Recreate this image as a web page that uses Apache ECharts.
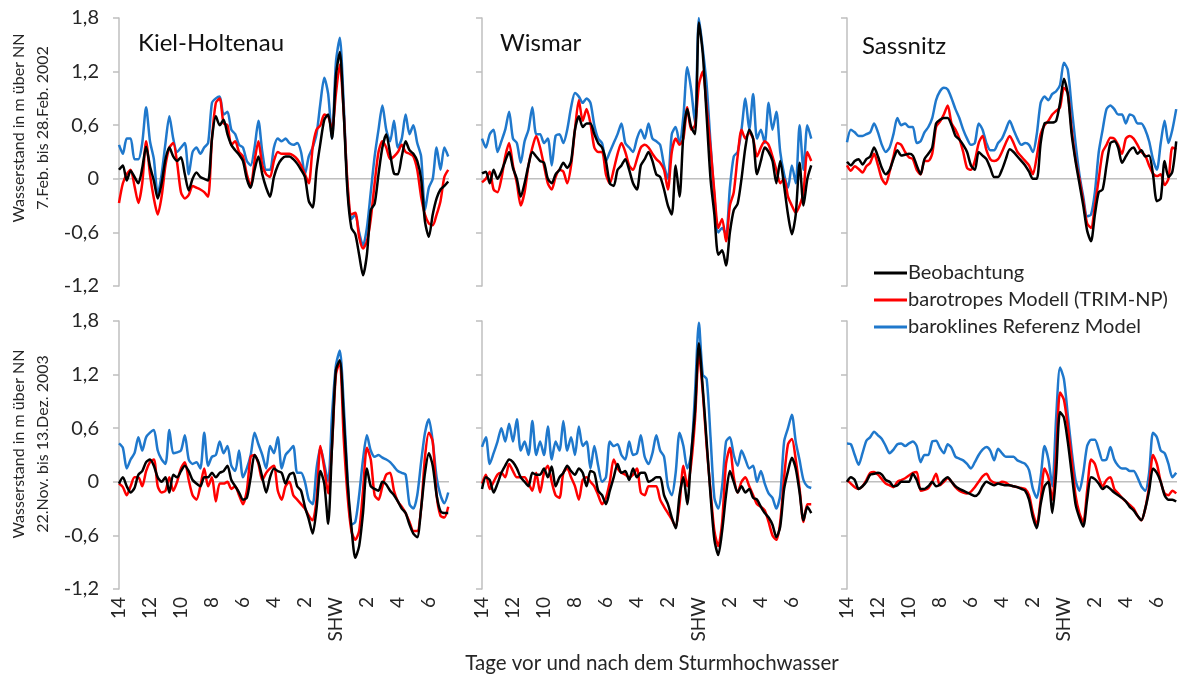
<!DOCTYPE html>
<html><head><meta charset="utf-8">
<script src="https://cdn.jsdelivr.net/npm/echarts@6/dist/echarts.min.js"></script>
<style>html,body{margin:0;padding:0;background:#fff}#c{width:1187px;height:677px}</style>
</head><body><div id="c"></div>
<script>
// time axis: days relative to storm surge (SHW), 6-hourly
const days = [];
for (let i = 0; i < 86; i++) days.push(-14 + 0.25 * i);
const stations = ['Kiel-Holtenau', 'Wismar', 'Sassnitz'];
const periods = ['7.Feb. bis 28.Feb. 2002', '22.Nov. bis 13.Dez. 2003'];
const seriesNames = ['Beobachtung', 'barotropes Modell (TRIM-NP)', 'baroklines Referenz Model'];
const yAxisTitle = 'Wasserstand in m über NN';
const xAxisTitle = 'Tage vor und nach dem Sturmhochwasser';

const kiel2002_obs = [0.10,0.15,-0.02,0.09,0.02,-0.05,0.12,0.36,0.14,-0.02,
-0.22,-0.05,0.22,0.35,0.25,0.20,0.24,0.05,-0.13,0.00,
0.07,0.02,0.00,-0.02,0.45,0.70,0.60,0.66,0.50,0.38,
0.32,0.27,0.20,0.00,-0.10,0.10,0.25,0.05,-0.10,-0.20,
0.02,0.15,0.22,0.25,0.25,0.22,0.17,0.10,0.02,-0.25,
-0.32,0.10,0.40,0.66,0.72,0.45,1.15,1.42,0.75,-0.15,
-0.55,-0.62,-0.85,-1.08,-0.85,-0.35,-0.28,0.05,0.35,0.50,
0.28,0.06,0.05,0.25,0.42,0.32,0.28,0.20,0.00,-0.48,
-0.65,-0.40,-0.22,-0.12,-0.08,-0.03];
const kiel2002_baro = [-0.27,-0.05,0.05,0.10,-0.08,-0.27,-0.05,0.42,0.05,-0.22,
-0.40,-0.20,0.15,0.35,0.40,0.18,-0.15,-0.22,-0.18,-0.08,
-0.10,-0.12,-0.15,-0.20,0.45,0.85,0.90,0.62,0.60,0.38,
0.42,0.30,0.25,0.05,-0.08,0.20,0.42,0.15,0.05,0.02,
0.20,0.30,0.28,0.28,0.28,0.26,0.22,0.15,0.05,-0.05,
0.35,0.55,0.60,0.72,0.70,0.55,0.95,1.28,0.75,-0.05,
-0.40,-0.38,-0.65,-0.78,-0.70,-0.45,-0.05,0.30,0.42,0.35,
0.22,0.25,0.30,0.38,0.30,0.28,0.25,0.10,-0.20,-0.40,
-0.50,-0.52,-0.40,-0.25,0.02,0.10];
const kiel2002_bkl = [0.38,0.28,0.45,0.45,0.22,0.22,0.40,0.80,0.42,0.22,
-0.18,0.05,0.40,0.70,0.45,0.30,0.35,0.40,0.05,0.30,
0.35,0.28,0.35,0.40,0.85,0.90,0.92,0.72,0.75,0.55,
0.50,0.38,0.35,0.20,0.15,0.35,0.65,0.30,0.10,0.10,
0.35,0.45,0.42,0.45,0.40,0.38,0.40,0.30,0.05,0.25,
0.35,0.50,0.85,1.13,0.95,0.45,1.30,1.58,0.85,-0.10,
-0.45,-0.40,-0.60,-0.75,-0.55,-0.15,0.25,0.55,0.82,0.55,
0.42,0.65,0.35,0.45,0.72,0.50,0.60,0.40,0.25,-0.35,
-0.10,0.00,0.35,0.10,0.35,0.25];

const wismar2002_obs = [0.06,0.08,-0.05,0.10,0.00,0.08,0.20,0.30,0.12,0.00,
-0.20,-0.05,0.15,0.30,0.25,0.20,0.18,0.00,-0.05,0.05,
0.10,0.18,0.12,0.20,0.55,0.70,0.58,0.62,0.62,0.50,
0.40,0.35,0.20,-0.05,-0.08,0.10,0.15,0.22,0.10,-0.05,
-0.12,0.15,0.22,0.30,0.20,0.05,0.02,-0.12,-0.30,-0.40,
0.15,-0.20,0.50,0.78,0.58,0.50,1.75,1.40,0.70,0.00,
-0.40,-0.85,-0.80,-0.97,-0.60,-0.35,-0.28,0.00,0.35,0.55,
0.45,0.05,0.20,0.35,0.30,0.20,-0.05,0.20,-0.08,-0.40,
-0.62,-0.40,0.18,-0.30,0.00,0.15];
const wismar2002_baro = [-0.04,0.00,0.08,-0.12,-0.15,0.00,0.25,0.40,0.15,-0.05,
-0.30,-0.15,0.15,0.35,0.48,0.35,0.15,-0.05,-0.12,0.02,
0.10,0.08,-0.05,0.15,0.55,0.88,0.65,0.78,0.62,0.35,
0.30,0.30,0.05,-0.05,0.10,0.28,0.40,0.30,0.15,0.10,
0.22,0.35,0.38,0.35,0.28,0.22,0.18,0.10,-0.12,0.30,
0.45,0.38,0.45,0.80,0.55,0.60,1.05,1.20,0.80,0.35,
-0.15,-0.55,-0.45,-0.70,-0.30,-0.15,0.25,0.55,0.45,0.52,
0.45,0.25,0.35,0.42,0.38,0.25,0.10,-0.05,0.00,-0.20,
-0.30,-0.38,-0.30,-0.15,0.30,0.20];
const wismar2002_bkl = [0.45,0.35,0.50,0.55,0.30,0.42,0.55,0.75,0.45,0.40,
0.18,0.42,0.55,0.80,0.50,0.50,0.40,0.45,0.15,0.48,
0.50,0.40,0.55,0.80,0.96,0.92,0.85,0.90,0.85,0.60,
0.45,0.40,0.20,0.30,0.40,0.50,0.62,0.40,0.35,0.30,
0.45,0.55,0.45,0.62,0.45,0.42,0.38,0.15,0.00,0.50,
0.58,0.40,0.70,1.25,1.00,0.62,1.80,1.45,1.05,0.40,
-0.20,-0.60,-0.55,-0.62,-0.10,0.25,0.30,0.55,0.90,0.55,
0.95,0.45,0.55,0.40,0.85,0.55,0.75,0.30,0.05,-0.10,
0.15,-0.05,0.60,0.10,0.60,0.45];

const sassnitz2002_obs = [0.19,0.15,0.20,0.22,0.16,0.22,0.25,0.35,0.25,0.12,
0.05,0.10,0.22,0.32,0.26,0.27,0.28,0.26,0.15,0.05,
0.22,0.28,0.35,0.62,0.66,0.68,0.68,0.60,0.48,0.44,
0.38,0.30,0.15,0.10,0.30,0.26,0.22,0.12,0.02,0.02,
0.10,0.22,0.33,0.30,0.25,0.20,0.15,0.08,0.00,0.00,
0.40,0.62,0.63,0.63,0.65,0.85,1.12,0.95,0.50,0.20,
-0.05,-0.30,-0.58,-0.70,-0.40,-0.15,-0.12,0.15,0.40,0.42,
0.35,0.18,0.25,0.32,0.35,0.28,0.32,0.25,0.26,0.05,
-0.25,-0.22,0.20,0.02,0.08,0.42];
const sassnitz2002_baro = [0.15,0.09,0.14,0.11,0.07,0.14,0.18,0.28,0.15,0.00,
-0.06,0.08,0.25,0.40,0.38,0.30,0.24,0.22,0.10,0.05,
0.20,0.20,0.28,0.58,0.64,0.72,0.82,0.62,0.55,0.45,
0.30,0.12,0.10,0.20,0.40,0.48,0.32,0.22,0.20,0.22,
0.30,0.40,0.48,0.40,0.30,0.25,0.20,0.15,0.05,0.25,
0.50,0.60,0.65,0.72,0.76,0.80,1.02,0.96,0.55,0.22,
0.00,-0.25,-0.50,-0.55,-0.30,0.00,0.30,0.38,0.46,0.45,
0.38,0.28,0.45,0.48,0.45,0.38,0.30,0.26,0.15,0.06,
0.03,0.05,-0.07,0.00,0.35,0.33];
const sassnitz2002_bkl = [0.41,0.55,0.52,0.48,0.48,0.50,0.52,0.62,0.52,0.38,
0.30,0.35,0.50,0.68,0.60,0.62,0.58,0.58,0.40,0.42,
0.52,0.58,0.68,0.88,0.98,1.02,1.00,0.90,0.78,0.68,
0.55,0.45,0.38,0.40,0.62,0.55,0.40,0.32,0.32,0.40,
0.45,0.55,0.65,0.55,0.45,0.38,0.40,0.38,0.30,0.50,
0.85,0.92,0.88,0.95,0.98,1.05,1.30,1.22,0.80,0.40,
0.05,-0.20,-0.42,-0.40,-0.15,0.30,0.55,0.78,0.82,0.78,
0.72,0.72,0.62,0.72,0.70,0.62,0.62,0.55,0.42,0.22,
0.10,0.40,0.65,0.40,0.55,0.78];

const kiel2003_obs = [-0.02,0.05,-0.05,-0.12,-0.07,0.08,0.12,0.22,0.25,0.18,
0.05,0.00,0.05,-0.12,0.08,0.05,0.12,0.18,0.12,0.02,
-0.02,-0.05,0.05,0.05,0.10,0.05,0.10,0.12,0.18,0.02,
-0.05,-0.12,-0.20,-0.18,0.05,0.30,0.22,0.05,-0.12,0.05,
0.15,0.12,0.10,-0.02,0.08,0.10,-0.05,-0.10,-0.28,-0.42,
-0.58,-0.30,0.12,-0.02,-0.47,0.40,1.25,1.36,0.75,0.00,
-0.50,-0.85,-0.72,-0.35,0.15,-0.05,-0.08,-0.10,0.00,-0.03,
-0.10,-0.15,-0.22,-0.30,-0.35,-0.48,-0.58,-0.62,-0.30,0.10,
0.32,0.18,-0.15,-0.33,-0.35,-0.35];
const kiel2003_baro = [-0.02,-0.06,-0.15,-0.05,0.05,0.05,-0.05,0.12,0.22,0.25,
-0.05,-0.12,-0.10,0.05,-0.10,0.00,0.15,0.22,0.02,-0.15,
-0.20,-0.05,0.15,-0.05,0.05,-0.22,-0.02,-0.02,0.00,-0.08,
-0.05,-0.15,-0.25,-0.10,0.28,0.30,0.20,0.02,0.10,0.15,
0.18,-0.10,-0.20,-0.05,0.00,-0.15,-0.20,-0.25,-0.30,-0.38,
-0.43,-0.20,0.40,0.15,-0.13,0.40,1.20,1.34,0.50,-0.15,
-0.55,-0.65,-0.55,-0.10,0.38,0.25,-0.15,-0.20,-0.05,0.08,
0.10,-0.10,-0.22,-0.28,-0.35,-0.45,-0.55,-0.55,-0.30,0.28,
0.55,0.45,-0.15,-0.38,-0.40,-0.28];
const kiel2003_bkl = [0.43,0.38,0.15,0.25,0.32,0.50,0.35,0.50,0.55,0.58,
0.35,0.25,0.20,0.58,0.32,0.33,0.35,0.52,0.25,0.20,
0.22,0.15,0.55,0.18,0.28,0.30,0.45,0.32,0.40,0.18,
0.12,0.35,0.05,0.15,0.30,0.55,0.42,0.30,0.15,0.40,
0.32,0.50,0.15,0.30,0.35,0.40,0.10,0.10,0.00,-0.20,
-0.25,0.15,0.38,0.20,0.00,0.75,1.30,1.47,0.88,0.05,
-0.48,-0.45,-0.15,0.25,0.52,0.35,0.28,0.30,0.27,0.25,
0.22,0.17,0.12,0.10,0.08,-0.25,-0.30,-0.15,0.22,0.55,
0.70,0.45,0.05,-0.15,-0.24,-0.12];

const wismar2003_obs = [-0.08,0.05,0.02,-0.12,-0.02,0.10,0.18,0.25,0.22,0.15,
0.05,0.00,-0.05,0.10,0.08,0.08,0.15,0.05,0.17,-0.05,
0.05,0.10,0.18,0.12,0.08,0.15,0.10,-0.05,0.12,0.10,
-0.10,-0.15,-0.25,-0.10,0.05,0.20,0.10,0.12,0.02,0.15,
0.05,0.10,0.10,0.00,0.02,0.05,0.05,-0.15,-0.25,-0.40,
-0.52,-0.15,0.05,-0.25,0.30,0.80,1.55,1.05,0.45,-0.15,
-0.65,-0.82,-0.55,-0.15,0.12,0.00,-0.12,-0.05,-0.12,-0.08,
-0.18,-0.20,-0.28,-0.35,-0.40,-0.48,-0.62,-0.50,-0.08,0.12,
0.27,0.15,-0.12,-0.43,-0.28,-0.35];
const wismar2003_baro = [-0.02,0.08,-0.08,0.00,0.08,0.10,0.05,0.20,0.12,0.05,
0.05,0.05,-0.02,-0.10,0.10,-0.12,0.10,0.18,0.00,-0.15,
-0.18,0.10,0.15,0.05,-0.05,-0.20,0.02,0.05,0.00,-0.05,
-0.15,-0.25,-0.18,0.00,0.25,0.15,0.10,0.08,0.05,0.08,
0.15,-0.12,-0.15,-0.05,-0.05,-0.05,-0.20,-0.28,-0.35,-0.42,
-0.50,-0.25,0.18,-0.05,0.20,0.70,1.45,1.00,0.40,-0.10,
-0.55,-0.72,-0.45,0.20,0.38,0.05,-0.12,0.00,0.05,-0.05,
-0.15,-0.25,-0.28,-0.32,-0.45,-0.60,-0.65,-0.45,0.05,0.42,
0.48,0.25,-0.08,-0.45,-0.25,-0.25];
const wismar2003_bkl = [0.39,0.50,0.20,0.32,0.45,0.60,0.45,0.65,0.45,0.70,
0.35,0.45,0.30,0.68,0.30,0.45,0.30,0.62,0.25,0.45,
0.35,0.68,0.35,0.50,0.30,0.62,0.40,0.45,0.15,0.40,
0.18,0.00,0.05,0.45,0.40,0.42,0.30,0.25,0.45,0.30,
0.32,0.52,0.28,0.20,0.32,0.52,0.35,0.28,-0.05,-0.15,
0.10,0.55,0.40,0.15,0.30,1.00,1.78,1.20,1.15,0.50,
-0.18,-0.30,-0.05,0.45,0.50,0.30,0.18,0.35,0.25,0.15,
0.18,0.00,0.12,-0.02,-0.13,-0.18,-0.30,-0.15,0.45,0.60,
0.75,0.45,0.24,0.02,-0.05,-0.07];

const sassnitz2003_obs = [0.00,0.05,0.02,-0.08,-0.05,0.00,0.08,0.09,0.10,0.08,
0.02,0.00,-0.05,-0.04,0.00,0.00,0.00,0.09,0.02,-0.08,
-0.08,-0.05,0.00,-0.05,-0.03,0.02,0.05,0.00,-0.05,-0.08,
-0.10,-0.12,-0.14,-0.16,-0.13,-0.05,0.00,-0.02,-0.04,-0.02,
-0.03,-0.04,-0.04,-0.05,-0.06,-0.08,-0.10,-0.20,-0.40,-0.52,
-0.25,-0.05,0.00,-0.35,0.10,0.78,0.72,0.45,0.10,-0.25,
-0.40,-0.50,-0.20,0.05,0.03,-0.02,-0.08,-0.05,-0.08,-0.12,
-0.15,-0.18,-0.22,-0.28,-0.32,-0.38,-0.43,-0.30,-0.10,0.15,
0.10,0.00,-0.15,-0.20,-0.20,-0.22];
const sassnitz2003_baro = [0.02,-0.02,-0.06,-0.08,-0.05,0.02,0.10,0.11,0.08,0.03,
-0.02,-0.04,-0.06,0.00,0.02,0.04,0.07,0.10,0.11,-0.10,
-0.09,-0.07,0.00,0.09,-0.04,0.00,0.04,0.00,-0.06,-0.10,
-0.12,-0.13,-0.11,-0.06,0.00,0.06,0.09,0.02,-0.01,-0.02,
0.00,-0.01,-0.04,-0.05,-0.06,-0.07,-0.08,-0.15,-0.35,-0.48,
-0.20,0.15,0.05,-0.20,0.30,1.00,0.92,0.62,0.25,-0.15,
-0.35,-0.45,-0.10,0.25,0.20,0.05,-0.05,0.02,0.05,-0.08,
-0.13,-0.18,-0.22,-0.26,-0.30,-0.38,-0.43,-0.30,-0.05,0.30,
0.20,0.00,-0.13,-0.15,-0.10,-0.13];
const sassnitz2003_bkl = [0.43,0.42,0.30,0.19,0.32,0.46,0.50,0.56,0.52,0.48,
0.40,0.32,0.36,0.42,0.43,0.40,0.43,0.45,0.40,0.22,
0.30,0.30,0.45,0.46,0.38,0.32,0.42,0.38,0.28,0.26,
0.24,0.20,0.15,0.22,0.30,0.36,0.39,0.35,0.24,0.37,
0.32,0.28,0.28,0.28,0.24,0.22,0.20,0.13,-0.08,-0.18,
0.05,0.40,0.25,-0.05,0.72,1.28,1.15,0.75,0.35,0.02,
-0.10,0.10,0.40,0.47,0.47,0.36,0.24,0.25,0.39,0.25,
0.18,0.15,0.15,0.12,0.12,0.05,-0.05,-0.10,0.10,0.55,
0.50,0.35,0.32,0.20,0.05,0.10];

const FONT = 'Lato, "Open Sans", sans-serif';
const TXT = '#262626';
const GRAY = '#bfbfbf';
const colors = ['#000000', '#ff0000', '#1f78cc'];

const panels = [
  {row: 0, col: 0, data: [kiel2002_obs, kiel2002_baro, kiel2002_bkl]},
  {row: 0, col: 1, data: [wismar2002_obs, wismar2002_baro, wismar2002_bkl]},
  {row: 0, col: 2, data: [sassnitz2002_obs, sassnitz2002_baro, sassnitz2002_bkl]},
  {row: 1, col: 0, data: [kiel2003_obs, kiel2003_baro, kiel2003_bkl]},
  {row: 1, col: 1, data: [wismar2003_obs, wismar2003_baro, wismar2003_bkl]},
  {row: 1, col: 2, data: [sassnitz2003_obs, sassnitz2003_baro, sassnitz2003_bkl]}
];
const colLeft = [119, 482, 847], rowTop = [18, 321], W = 330, H = 268;
const X_MAX = 7.3;

const grids = [], xAxes = [], yAxes = [], series = [];
panels.forEach((p, k) => {
  grids.push({left: colLeft[p.col], top: rowTop[p.row], width: W, height: H});
  xAxes.push({
    type: 'value', gridIndex: k, min: -14, max: X_MAX, interval: 2,
    axisLine: {show: false, onZero: false}, axisTick: {show: false}, splitLine: {show: false},
    axisLabel: {
      show: p.row === 1, rotate: 90, fontSize: 19, fontFamily: FONT, color: TXT, margin: 8,
      showMaxLabel: false,
      formatter: v => (Math.abs(v) < 1e-9 ? 'SHW' : (v > 7 ? '' : String(Math.round(Math.abs(v)))))
    }
  });
  yAxes.push({
    type: 'value', gridIndex: k, min: -1.2, max: 1.8, interval: 0.6,
    axisLine: {show: true, onZero: false, lineStyle: {color: GRAY, width: 1.5}},
    axisTick: {show: true, length: 6, lineStyle: {color: GRAY, width: 1.5}},
    splitLine: {show: false},
    axisLabel: {
      show: p.col === 0, fontSize: 20, fontFamily: FONT, color: TXT, margin: 20,
      formatter: v => (Math.abs(v) < 1e-9 ? '0' : v.toFixed(1).replace('.', ','))
    }
  });
  // zero line
  series.push({
    type: 'line', xAxisIndex: k, yAxisIndex: k, data: [[-14, 0], [X_MAX, 0]],
    symbol: 'none', silent: true, lineStyle: {color: GRAY, width: 1.5}, z: 1, animation: false
  });
  [2, 1, 0].forEach(j => {
    series.push({
      name: seriesNames[j], type: 'line', xAxisIndex: k, yAxisIndex: k,
      data: days.map((d, i) => [d, p.data[j][i]]),
      symbol: 'none', smooth: 0.25, clip: true,
      lineStyle: {color: colors[j], width: 2.5}, itemStyle: {color: colors[j]},
      z: 3 + (2 - j), animation: false
    });
  });
});

const graphics = [];
const titlePos = [[138, 43], [500, 43], [862, 46]];
stations.forEach((s, i) => graphics.push({
  type: 'text', x: titlePos[i][0], y: titlePos[i][1],
  style: {text: s, font: '24px ' + FONT, fill: '#111', align: 'left', verticalAlign: 'middle'}
}));
const yNameCenters = [128, 444];
periods.forEach((per, r) => {
  graphics.push({type: 'text', x: 19, y: yNameCenters[r], rotation: Math.PI / 2,
    style: {text: yAxisTitle, font: '16px ' + FONT, fill: TXT, align: 'center', verticalAlign: 'middle'}});
  graphics.push({type: 'text', x: 43, y: yNameCenters[r], rotation: Math.PI / 2,
    style: {text: per, font: '16px ' + FONT, fill: TXT, align: 'center', verticalAlign: 'middle'}});
});
graphics.push({type: 'text', x: 652, y: 663,
  style: {text: xAxisTitle, font: '20.5px ' + FONT, fill: TXT, align: 'center', verticalAlign: 'middle'}});

const chart = echarts.init(document.getElementById('c'), null, {renderer: 'canvas'});
chart.setOption({
  backgroundColor: '#ffffff',
  animation: false,
  grid: grids, xAxis: xAxes, yAxis: yAxes, series: series,
  legend: {
    data: seriesNames.map((n, j) => ({name: n, icon: 'rect', itemStyle: {color: colors[j]}})),
    orient: 'vertical', left: 869, top: 258,
    itemWidth: 33, itemHeight: 3, itemGap: 7, itemStyle: {borderWidth: 0},
    textStyle: {fontSize: 20, fontFamily: FONT, color: TXT, lineHeight: 19, padding: [0, 0, 0, -4]}
  },
  graphic: graphics
});
</script></body></html>
